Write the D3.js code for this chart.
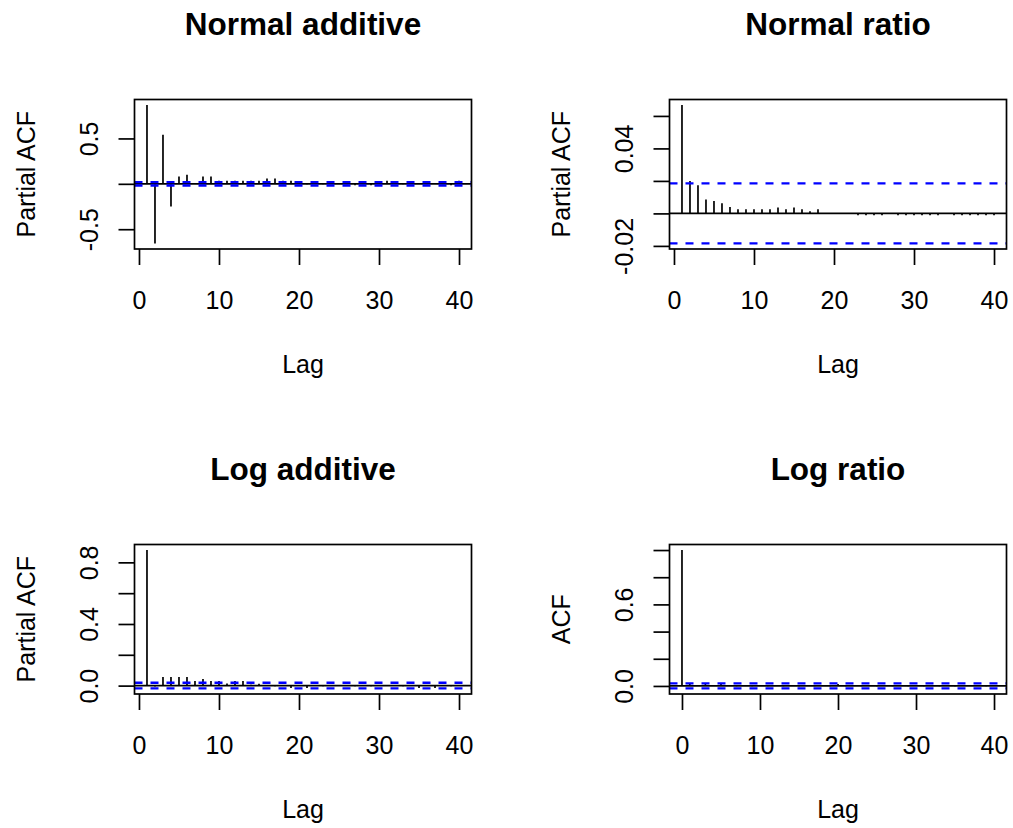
<!DOCTYPE html>
<html>
<head>
<meta charset="utf-8">
<script src="https://cdn.jsdelivr.net/npm/d3@7"></script>
<style>
  html, body { margin: 0; padding: 0; background: #fff; }
  svg { display: block; font-family: "Liberation Sans", Arial, Helvetica, sans-serif; }
</style>
</head>
<body>
<svg id="chart" width="1013" height="828"></svg>
<script>
// Lags: partial autocorrelations start at lag 1, the ACF at lag 0
const pacfLags = d3.range(1, 41);
const acfLags = d3.range(0, 41);

// Partial ACF, normal additive model (lags 1..40)
const normalAdditive = [
  0.868, -0.657, 0.542, -0.249, 0.080, 0.100, 0.010, 0.080, 0.080, 0.035,
  0.035, 0.035, 0.035, 0.035, 0.035, 0.060, 0.060, 0.035, 0.035, 0.006,
  -0.004, 0.005, -0.006, 0.004, 0.008, -0.005, -0.016, 0.006, -0.016, 0.004,
  0.035, 0.006, -0.005, 0.004, 0.007, -0.004, 0.005, 0.006, -0.016, 0.035
];

// Partial ACF, normal ratio model (lags 1..40)
const normalRatio = [
  0.0667, 0.0199, 0.0174, 0.0086, 0.0076, 0.0062, 0.0039, 0.0025, 0.0025, 0.0025,
  0.0025, 0.0025, 0.0037, 0.0025, 0.0037, 0.0025, 0.0014, 0.0025, 0.0002, -0.0002,
  0.0001, -0.0001, -0.0012, -0.0012, -0.0012, -0.0012, -0.0002, -0.0012, -0.0012, -0.0012,
  -0.0012, -0.0012, -0.0012, -0.0002, -0.0012, -0.0012, -0.0012, -0.0012, -0.0012, -0.0012
];

// Partial ACF, log additive model (lags 1..40)
const logAdditive = [
  0.880, -0.005, 0.056, 0.056, 0.056, 0.056, 0.030, 0.043, 0.030, 0.030,
  0.013, 0.030, 0.030, 0.005, 0.012, 0.004, -0.004, 0.003, -0.015, 0.004,
  -0.015, 0.003, -0.004, 0.004, -0.003, 0.004, -0.004, 0.003, -0.004, 0.004,
  -0.003, 0.004, -0.004, 0.003, -0.015, 0.004, -0.015, 0.003, -0.004, 0.004
];

// ACF, log ratio model (lags 0..40)
const logRatio = [
  1.000, 0.020, 0.006, 0.020, 0.006, 0.020, 0.002, -0.002, 0.002, -0.002,
  0.002, -0.002, 0.002, -0.002, 0.002, -0.002, 0.002, -0.002, 0.002, -0.002,
  0.015, -0.002, 0.002, -0.002, 0.002, -0.002, 0.002, -0.002, 0.002, -0.002,
  0.002, -0.002, 0.002, -0.002, 0.002, -0.002, 0.002, 0.006, 0.002, -0.002,
  0.002
];

// 95% white-noise bounds
const confidenceBound = 0.0185;

// Axis ticks and the labels that are printed (blank = tick without label)
const xTickValues = [0, 10, 20, 30, 40];
const xTickLabels = ["0", "10", "20", "30", "40"];
const normalAdditiveYTicks = [-0.5, 0, 0.5];
const normalAdditiveYLabels = ["-0.5", "", "0.5"];
const normalRatioYTicks = [-0.02, 0, 0.02, 0.04, 0.06];
const normalRatioYLabels = ["-0.02", "", "", "0.04", ""];
const logAdditiveYTicks = [0, 0.2, 0.4, 0.6, 0.8];
const logAdditiveYLabels = ["0.0", "", "0.4", "", "0.8"];
const logRatioYTicks = [0, 0.2, 0.4, 0.6, 0.8, 1.0];
const logRatioYLabels = ["0.0", "", "", "0.6", "", ""];

const titles = ["Normal additive", "Normal ratio", "Log additive", "Log ratio"];
const yTitles = ["Partial ACF", "Partial ACF", "Partial ACF", "ACF"];

// Plot-region frames for the 2x2 grid
const columns = [[134.5, 471.5], [669.5, 1006.5]];
const rows = [[99.5, 249], [544.5, 694]];

const panels = [
  { lags: pacfLags, values: normalAdditive, yTicks: normalAdditiveYTicks, yLabels: normalAdditiveYLabels, col: 0, row: 0 },
  { lags: pacfLags, values: normalRatio, yTicks: normalRatioYTicks, yLabels: normalRatioYLabels, col: 1, row: 0 },
  { lags: pacfLags, values: logAdditive, yTicks: logAdditiveYTicks, yLabels: logAdditiveYLabels, col: 0, row: 1 },
  { lags: acfLags, values: logRatio, yTicks: logRatioYTicks, yLabels: logRatioYLabels, col: 1, row: 1 }
].map((p, i) => ({ ...p, title: titles[i], ylab: yTitles[i], ci: confidenceBound }));

// Extend a range by 4% on each side
function padded([lo, hi]) {
  const d = (hi - lo) * 0.04;
  return [lo - d, hi + d];
}

const svg = d3.select("#chart");
const FONT = 25;
const LW = 1.7;

panels.forEach(p => {
  const [x0, x1] = columns[p.col];
  const [y0, y1] = rows[p.row];

  const x = d3.scaleLinear().domain(padded(d3.extent(p.lags))).range([x0, x1]);
  const yExt = d3.extent([...p.values, -p.ci, p.ci]);
  const y = d3.scaleLinear().domain(padded(yExt)).range([y1, y0]);

  const g = svg.append("g");

  // zero reference line
  g.append("line")
    .attr("x1", x0).attr("x2", x1)
    .attr("y1", y(0)).attr("y2", y(0))
    .attr("stroke", "#000").attr("stroke-width", LW);

  // correlation spikes
  g.selectAll("line.spike")
    .data(p.lags.map((lag, i) => ({ lag, v: p.values[i] })))
    .join("line")
    .attr("class", "spike")
    .attr("x1", d => x(d.lag)).attr("x2", d => x(d.lag))
    .attr("y1", y(0)).attr("y2", d => y(d.v))
    .attr("stroke", "#000").attr("stroke-width", LW);

  // confidence bounds
  g.selectAll("line.ci")
    .data([p.ci, -p.ci])
    .join("line")
    .attr("class", "ci")
    .attr("x1", x0).attr("x2", x1)
    .attr("y1", d => y(d)).attr("y2", d => y(d))
    .attr("stroke", "#0000ff").attr("stroke-width", 2.3)
    .attr("stroke-dasharray", "8,8");

  // frame
  g.append("rect")
    .attr("x", x0).attr("y", y0)
    .attr("width", x1 - x0).attr("height", y1 - y0)
    .attr("fill", "none").attr("stroke", "#000").attr("stroke-width", LW);

  // x axis
  const xa = g.append("g")
    .attr("transform", `translate(0,${y1})`)
    .call(d3.axisBottom(x)
      .tickValues(xTickValues)
      .tickFormat((d, i) => xTickLabels[i])
      .tickSize(16));
  xa.select(".domain").remove();
  xa.selectAll("line").attr("stroke", "#000").attr("stroke-width", LW);
  xa.selectAll("text")
    .attr("y", 60).attr("dy", null)
    .attr("fill", "#000")
    .style("font-size", FONT + "px")
    .style("font-family", "'Liberation Sans', Arial, sans-serif");

  // y axis (labels parallel to the axis)
  const ya = g.append("g")
    .attr("transform", `translate(${x0},0)`)
    .call(d3.axisLeft(y)
      .tickValues(p.yTicks)
      .tickFormat((d, i) => p.yLabels[i])
      .tickSize(16));
  ya.select(".domain").remove();
  ya.selectAll("line").attr("stroke", "#000").attr("stroke-width", LW);
  ya.selectAll("text")
    .attr("x", null).attr("dy", null)
    .attr("text-anchor", "middle")
    .attr("transform", "translate(-36.5,0) rotate(-90)")
    .attr("fill", "#000")
    .style("font-size", FONT + "px")
    .style("font-family", "'Liberation Sans', Arial, sans-serif");

  // titles
  g.append("text")
    .attr("x", (x0 + x1) / 2).attr("y", y0 - 64.5)
    .attr("text-anchor", "middle")
    .style("font-size", "31.5px").style("font-weight", "bold")
    .text(p.title);

  g.append("text")
    .attr("x", (x0 + x1) / 2).attr("y", y1 + 124)
    .attr("text-anchor", "middle")
    .style("font-size", FONT + "px")
    .text("Lag");

  g.append("text")
    .attr("transform", `translate(${x0 - 100},${(y0 + y1) / 2}) rotate(-90)`)
    .attr("text-anchor", "middle")
    .style("font-size", FONT + "px")
    .text(p.ylab);
});
</script>
</body>
</html>
